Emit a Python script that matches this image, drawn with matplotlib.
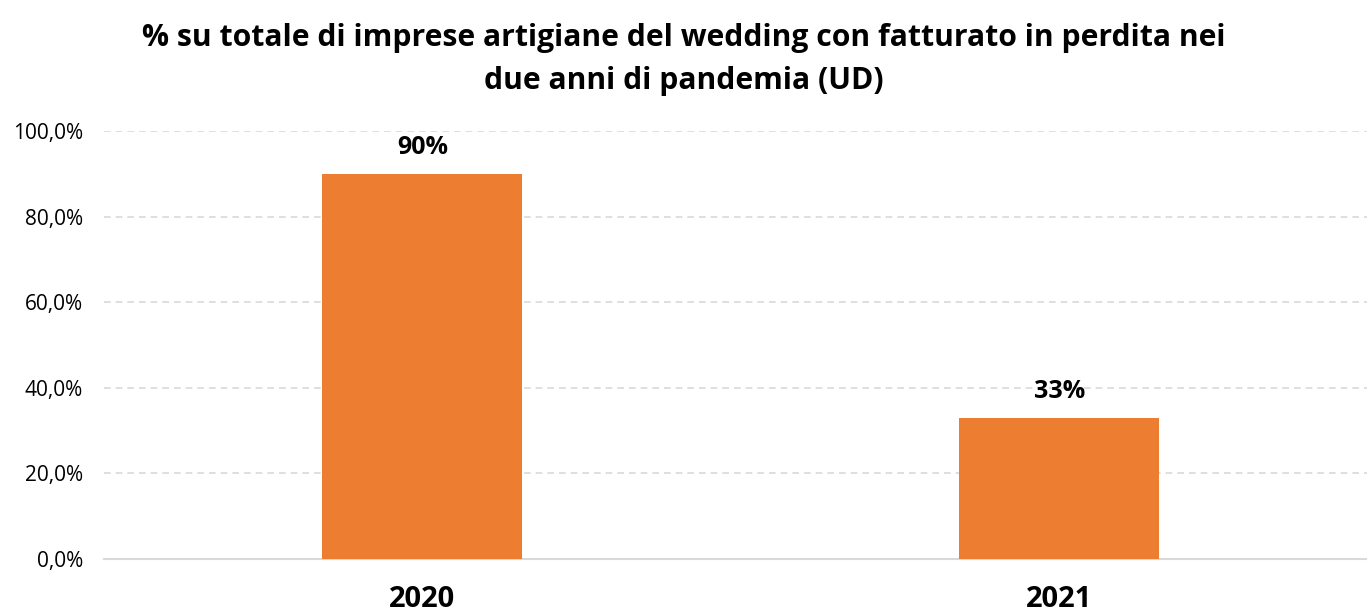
import matplotlib
matplotlib.use("Agg")
import matplotlib.pyplot as plt
from matplotlib.ticker import FuncFormatter

categories = ["2020", "2021"]
values = [90, 33]
value_labels = ["90%", "33%"]
yticks = [0, 20, 40, 60, 80, 100]
title_lines = ["% su totale di imprese artigiane del wedding con fatturato in perdita nei",
               "due anni di pandemia (UD)"]

plt.rcParams['font.family'] = ['Open Sans', 'DejaVu Sans']

fig = plt.figure(figsize=(13.67, 6.12), dpi=100)
ax = fig.add_axes([104/1367, 1-559/612, 1-104/1367, (559-131)/612])

x = list(range(len(categories)))
bars = ax.bar(x, values, width=0.314, color="#ED7D31", zorder=3)
ax.set_xlim(-0.5, 1.483)
ax.set_ylim(0, 100)
ax.set_yticks(yticks)
ax.yaxis.set_major_formatter(FuncFormatter(lambda v, p: f"{v:.1f}".replace(".", ",") + "%"))
ax.set_xticks(x)
ax.set_xticklabels(categories, fontsize=21, fontweight="bold")
ax.tick_params(axis="both", length=0)
ax.tick_params(axis="y", labelsize=15, pad=15)
ax.tick_params(axis="x", pad=19)

ax.grid(axis="y", color="#D9D9D9", linestyle=(0, (4, 3)), linewidth=1.2, zorder=0)
for s in ["top", "right", "left"]:
    ax.spines[s].set_visible(False)
ax.spines["bottom"].set_color("#D9D9D9")
ax.spines["bottom"].set_linewidth(1.5)

for b, t in zip(bars, value_labels):
    ax.annotate(t, (b.get_x() + b.get_width()/2, b.get_height()), xytext=(0, 10),
                textcoords="offset points", ha="center", va="bottom",
                fontsize=18, fontweight="bold")

fig.text(0.5, 1-46/612, title_lines[0], ha="center", va="baseline", fontsize=21.7, fontweight="bold")
fig.text(0.5, 1-89/612, title_lines[1], ha="center", va="baseline", fontsize=21.7, fontweight="bold")

fig.savefig("out.png", dpi=100)
